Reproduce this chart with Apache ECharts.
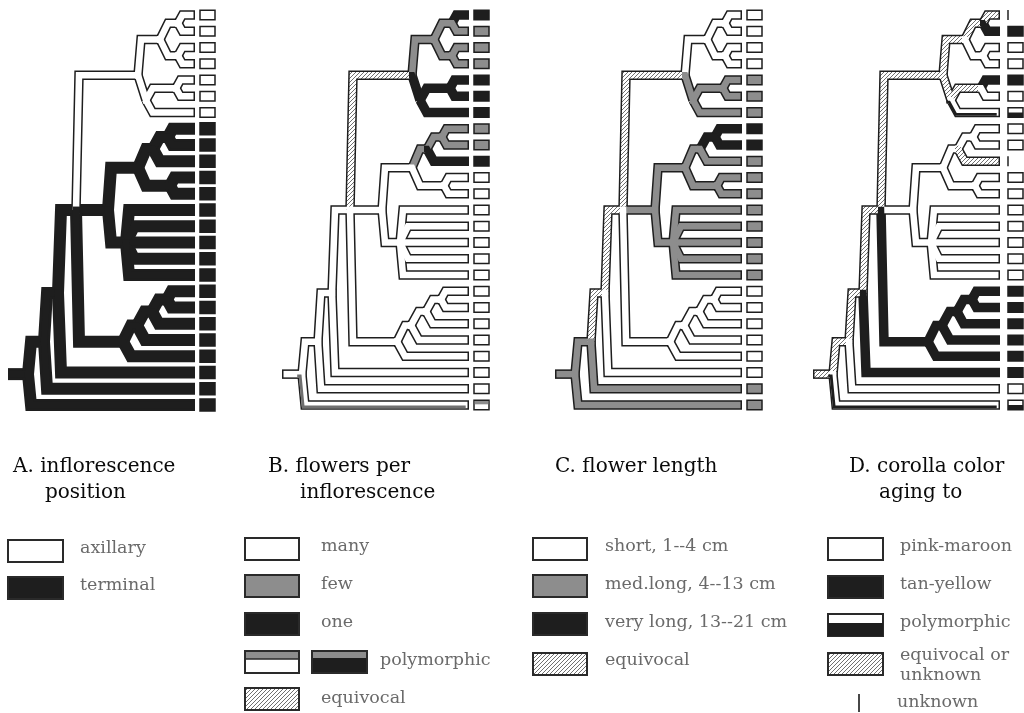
<!DOCTYPE html>
<html><head><meta charset="utf-8">
<script src="https://cdn.jsdelivr.net/npm/echarts@6/dist/echarts.min.js"></script>
<style>html,body{margin:0;padding:0;background:#fff}#c{width:1024px;height:713px}</style>
</head><body><div id="c"></div>
<script>
// ---------------- DATA ----------------
// tree nodes (internal), depth in tree units, row in taxon units
const nodeNames  = ['base','R','N2','N3','N4','C1','n1_4','n12','n34','n5_7','n56','N6','N8','n8_10','n89','n11_12','N9','N7','n18_21','n18_20','n18_19'];
const nodeParent = [null,'base','R','N2','N3','N4','C1','n1_4','n1_4','C1','n5_7','N4','N6','N8','n8_10','N8','N6','N4','N7','n18_21','n18_20'];
const nodeDepth  = [0,20,36,50,68,130,152,170,170,138,168,100,130,145,160,162,118,115,129,144,159];
const nodeRow    = [23.1,23.1,21.1,18.1,13.0,4.7,2.5,1.5,3.5,6.25,5.5,13.0,10.4,9.25,8.5,11.5,15.0,21.1,20.1,19.25,18.5];
// taxa (terminal rows) and the node each attaches to
const taxa = [1,2,3,4,5,6,7,8,9,10,11,12,13,14,15,16,17,18,19,20,21,22,23,24,25];
const tipParent = ['n12','n12','n34','n34','n56','n56','n5_7','n89','n89','n8_10','n11_12','n11_12','N9','N9','N9','N9','N9','n18_19','n18_19','n18_20','n18_21','N7','N3','N2','R'];
const tipDepth = 187;

// branch states (branch leading into each node): w white, g gray, k black, h hatched, pg/pk polymorphic
const nodeStatesA = ['k','k','k','k','k','w','w','w','w','w','w','k','k','k','k','k','k','k','k','k','k'];
const nodeStatesB = ['w','w','w','w','w','h','g','g','g','k','k','w','w','g','g','w','w','w','w','w','w'];
const nodeStatesC = ['g','g','g','h','h','h','w','w','w','g','g','g','g','g','k','g','g','w','w','w','w'];
const nodeStatesD = ['h','h','h','h','h','h','h','h','w','h','h','w','w','w','w','w','w','k','k','k','k'];

const tipStatesA = ['w','w','w','w','w','w','w','k','k','k','k','k','k','k','k','k','k','k','k','k','k','k','k','k','k'];
const tipStatesB = ['k','g','g','g','k','k','k','g','g','k','w','w','w','w','w','w','w','w','w','w','w','w','w','w','pg'];
const tipStatesC = ['w','w','w','w','g','g','g','k','k','g','g','g','g','g','g','g','g','w','w','w','w','w','w','g','g'];
const tipStatesD = ['h','k','w','w','k','w','pk','w','w','h','w','w','w','w','w','w','w','k','k','k','k','k','k','w','pk'];

// terminal boxes
const boxA = ['w','w','w','w','w','w','w','k','k','k','k','k','k','k','k','k','k','k','k','k','k','k','k','k','k'];
const boxB = ['k','g','g','g','k','k','k','g','g','k','w','w','w','w','w','w','w','w','w','w','w','w','w','w','pgw'];
const boxC = ['w','w','w','w','g','g','g','k','k','g','g','g','g','g','g','g','g','w','w','w','w','w','w','g','g'];
const boxD = ['u','k','w','w','k','w','pwk','w','w','u','w','w','w','w','w','w','w','k','k','k','k','k','k','w','pwk'];

// texts
const titlesA = ['A. inflorescence','position'];
const titlesB = ['B. flowers per','inflorescence'];
const titlesC = ['C. flower length'];
const titlesD = ['D. corolla color','aging to'];
const legendA = ['axillary','terminal'];
const legendB = ['many','few','one','polymorphic','equivocal'];
const legendC = ['short, 1--4 cm','med.long, 4--13 cm','very long, 13--21 cm','equivocal'];
const legendD = ['pink-maroon','tan-yellow','polymorphic','equivocal or','unknown','unknown'];

// ---------------- STYLE ----------------
const STATES = ['w','g','k','h','pg','pk'];
const BOXSTATES = ['w','g','k','pgw','pwk','u'];
const BLACK = '#1e1e1e', GRAY = '#8d8d8d', LINE = '#222';
const hatchCanvas = (function(){
  const c = document.createElement('canvas'); c.width = 4; c.height = 4;
  const x = c.getContext('2d'); x.fillStyle = '#fff'; x.fillRect(0,0,4,4);
  x.strokeStyle = '#707070'; x.lineWidth = 1;
  x.beginPath(); x.moveTo(-1,5); x.lineTo(5,-1); x.moveTo(-3,3); x.lineTo(3,-3); x.moveTo(1,7); x.lineTo(7,1); x.stroke();
  return c;
})();
const HATCH = {image: hatchCanvas, repeat: 'repeat'};
const FILLCOL = {w:'#ffffff', g:GRAY, k:BLACK, h:HATCH, pg:'#ffffff', pk:'#ffffff'};

const panelLeft = [8, 282, 555, 813];

function branchData(nStates, tStates){
  const items = [];
  nodeNames.forEach((n,i)=>{
    if (nodeParent[i] === null) return;
    const p = nodeNames.indexOf(nodeParent[i]);
    items.push([nodeDepth[p], nodeRow[p], nodeDepth[i], nodeRow[i], 0, nodeParent[i]==='base'?1:0, STATES.indexOf(nStates[i])]);
  });
  taxa.forEach((t,k)=>{
    const p = nodeNames.indexOf(tipParent[k]);
    items.push([nodeDepth[p], nodeRow[p], tipDepth, t, 1, 0, STATES.indexOf(tStates[k])]);
  });
  return items;
}
function branchPts(api, forFill){
  const p = api.coord([api.value(0), api.value(1)]);
  const c = api.coord([api.value(2), api.value(3)]);
  const isTip = api.value(4), isBase = api.value(5);
  const dy = c[1]-p[1], a = Math.abs(dy);
  let pts;
  if (isBase) pts = [[p[0]+(forFill?1.5:0), p[1]], [c[0], c[1]]];
  else if (a < 0.5) pts = [[p[0]-3, p[1]], [c[0], c[1]]];
  else {
    const s = a < 30 ? Math.min(a*0.55, 8) : 3;
    pts = [[p[0]-3, p[1]], [p[0], p[1]], [p[0]+s, c[1]], [c[0], c[1]]];
  }
  if (isTip && forFill) pts[pts.length-1][0] -= 1.5;
  return pts;
}
function mkOutline(panel){
  return function(params, api){
    const st = STATES[api.value(6)];
    const w = (panel===0 && st==='k') ? 12 : 9.5;
    return {type:'polyline', shape:{points:branchPts(api,false)},
      style:{stroke:BLACK, lineWidth:w, fill:'none', lineJoin:'miter', miterLimit:3, lineCap:'butt'}};
  };
}
function mkFill(panel){
  return function(params, api){
    const st = STATES[api.value(6)];
    const pts = branchPts(api,true);
    const main = {type:'polyline', shape:{points:pts},
      style:{stroke:FILLCOL[st], lineWidth:6.5, fill:'none', lineJoin:'miter', miterLimit:3, lineCap:'butt'}};
    if (st==='pg' || st==='pk'){
      const o = 1.8;
      const pts2 = pts.map(q=>[q[0]-o, q[1]+o]);
      return {type:'group', children:[main, {type:'polyline', shape:{points:pts2},
        style:{stroke: st==='pg'?'#6f6f6f':BLACK, lineWidth:2.8, fill:'none', lineJoin:'miter', miterLimit:3}}]};
    }
    return main;
  };
}
function mkBox(panel){
  return function(params, api){
    const c = api.coord([api.value(0), api.value(1)]);
    const st = BOXSTATES[api.value(2)];
    const x = c[0] + (panel===3 ? 8 : 5), w = 15;
    const h = (panel===0 && st==='k') ? 12 : 9.5;
    const y = c[1]-h/2;
    if (st==='u') return {type:'line', shape:{x1:x, y1:c[1]-5, x2:x, y2:c[1]+5}, style:{stroke:LINE, lineWidth:1.5}};
    const frame = {type:'rect', shape:{x:x, y:y, width:w, height:h}, style:{fill: st==='g'?GRAY:(st==='k'?BLACK:'#fff'), stroke:BLACK, lineWidth:1.5}};
    if (st==='pgw') return {type:'group', children:[frame, {type:'rect', shape:{x:x+0.75,y:y+0.75,width:w-1.5,height:h*0.35}, style:{fill:GRAY}}]};
    if (st==='pwk') return {type:'group', children:[frame, {type:'rect', shape:{x:x,y:y+h*0.5,width:w,height:h*0.5}, style:{fill:BLACK}}]};
    return frame;
  };
}

const panels = [
  [nodeStatesA, tipStatesA, boxA],
  [nodeStatesB, tipStatesB, boxB],
  [nodeStatesC, tipStatesC, boxC],
  [nodeStatesD, tipStatesD, boxD]
];
const series = [];
panels.forEach((pd, i)=>{
  const bd = branchData(pd[0], pd[1]);
  series.push({type:'custom', xAxisIndex:i, yAxisIndex:i, clip:false, z:1, silent:true, renderItem:mkOutline(i), data:bd, animation:false});
  series.push({type:'custom', xAxisIndex:i, yAxisIndex:i, clip:false, z:2, silent:true, renderItem:mkFill(i), data:bd, animation:false});
  series.push({type:'custom', xAxisIndex:i, yAxisIndex:i, clip:false, z:3, silent:true, renderItem:mkBox(i),
    data: taxa.map((t,k)=>[tipDepth, t, BOXSTATES.indexOf(pd[2][k])]), animation:false});
});

// ---------------- GRAPHIC TEXT / LEGEND ----------------
const TITLEFONT = '20px "DejaVu Serif", serif';
const LEGFONT = '17.5px "DejaVu Serif", serif';
function txt(s, x, y, font, col){
  return {type:'text', x:x, y:y, silent:true, style:{text:s, font:font, fill:col, textAlign:'left', textVerticalAlign:'middle', align:'left', verticalAlign:'middle'}};
}
function box(x, y, w, h, fill){
  return {type:'rect', silent:true, shape:{x:x, y:y, width:w, height:h}, style:{fill:fill, stroke:'#2a2a2a', lineWidth:2}};
}
const TCOL = '#0a0a0a', LCOL = '#6a6a6a';
const g = [];
g.push(txt(titlesA[0], 13, 467, TITLEFONT, TCOL), txt(titlesA[1], 45, 493, TITLEFONT, TCOL));
g.push(txt(titlesB[0], 268, 467, TITLEFONT, TCOL), txt(titlesB[1], 300, 493, TITLEFONT, TCOL));
g.push(txt(titlesC[0], 555, 467, TITLEFONT, TCOL));
g.push(txt(titlesD[0], 849, 467, TITLEFONT, TCOL), txt(titlesD[1], 879, 493, TITLEFONT, TCOL));
// legend A
g.push(box(8,540,55,22,'#fff'), txt(legendA[0], 80, 548, LEGFONT, LCOL));
g.push(box(8,577,55,22,BLACK), txt(legendA[1], 80, 585, LEGFONT, LCOL));
// legend B
g.push(box(245,538,54,22,'#fff'), txt(legendB[0], 321, 546, LEGFONT, LCOL));
g.push(box(245,575,54,22,GRAY), txt(legendB[1], 321, 584, LEGFONT, LCOL));
g.push(box(245,613,54,22,BLACK), txt(legendB[2], 321, 622, LEGFONT, LCOL));
g.push(box(245,651,54,22,'#fff'), {type:'rect', silent:true, shape:{x:246,y:652,width:52,height:7}, style:{fill:GRAY}},
       {type:'line', silent:true, shape:{x1:245,y1:659,x2:299,y2:659}, style:{stroke:'#2a2a2a', lineWidth:1.5}});
g.push(box(312,651,55,22,BLACK), {type:'rect', silent:true, shape:{x:313,y:652,width:53,height:6}, style:{fill:GRAY}});
g.push(txt(legendB[3], 380, 660, LEGFONT, LCOL));
g.push(box(245,688,54,22,HATCH), txt(legendB[4], 321, 698, LEGFONT, LCOL));
// legend C
g.push(box(533,538,54,22,'#fff'), txt(legendC[0], 605, 546, LEGFONT, LCOL));
g.push(box(533,575,54,22,GRAY), txt(legendC[1], 605, 584, LEGFONT, LCOL));
g.push(box(533,613,54,22,BLACK), txt(legendC[2], 605, 622, LEGFONT, LCOL));
g.push(box(533,653,54,22,HATCH), txt(legendC[3], 605, 660, LEGFONT, LCOL));
// legend D
g.push(box(828,538,55,22,'#fff'), txt(legendD[0], 900, 546, LEGFONT, LCOL));
g.push({type:'rect', silent:true, shape:{x:828,y:576,width:55,height:22}, style:{fill:BLACK, stroke:'#2a2a2a', lineWidth:2}});
g.push(txt(legendD[1], 900, 584, LEGFONT, LCOL));
g.push(box(828,614,55,22,'#fff'), {type:'rect', silent:true, shape:{x:828,y:623,width:55,height:13}, style:{fill:BLACK}});
g.push(txt(legendD[2], 900, 622, LEGFONT, LCOL));
g.push(box(828,653,55,22,HATCH), txt(legendD[3], 900, 655, LEGFONT, LCOL), txt(legendD[4], 900, 675, LEGFONT, LCOL));
g.push({type:'line', silent:true, shape:{x1:859,y1:694,x2:859,y2:712}, style:{stroke:'#333', lineWidth:1.8}});
g.push(txt(legendD[5], 897, 702, LEGFONT, LCOL));

const chart = echarts.init(document.getElementById('c'), null, {renderer:'canvas', width:1024, height:713});
chart.setOption({
  animation:false,
  backgroundColor:'#ffffff',
  grid: panelLeft.map(l=>({left:l, top:6.875, width:207, height:406.25})),
  xAxis: panelLeft.map((l,i)=>({type:'value', gridIndex:i, min:0, max:207, show:false})),
  yAxis: panelLeft.map((l,i)=>({type:'value', gridIndex:i, min:0.5, max:25.5, inverse:true, show:false})),
  series: series,
  graphic: {elements: g}
});
</script></body></html>
